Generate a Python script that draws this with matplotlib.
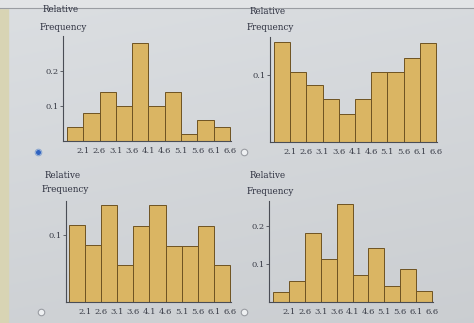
import numpy as np
import matplotlib.pyplot as plt

# bin edges 1.6 .. 6.6 in steps of 0.5, ticks on right edges
edges = np.arange(1.6, 6.61, 0.5)
tick_vals = [2.1, 2.6, 3.1, 3.6, 4.1, 4.6, 5.1, 5.6, 6.1, 6.6]
tick_labels = ["2.1", "2.6", "3.1", "3.6", "4.1", "4.6", "5.1", "5.6", "6.1", "6.6"]

freq_a = [0.04, 0.08, 0.14, 0.10, 0.28, 0.10, 0.14, 0.02, 0.06, 0.04]
freq_b = [0.15, 0.105, 0.085, 0.065, 0.042, 0.065, 0.105, 0.105, 0.125, 0.148]
freq_c = [0.115, 0.085, 0.145, 0.056, 0.114, 0.145, 0.084, 0.084, 0.113, 0.055]
freq_d = [0.027, 0.056, 0.183, 0.114, 0.257, 0.071, 0.142, 0.042, 0.086, 0.029]

yticks_a = [0.1, 0.2]
yticks_b = [0.1]
yticks_c = [0.1]
yticks_d = [0.1, 0.2]

W, H = 474, 323
fig = plt.figure(figsize=(W / 100, H / 100), dpi=100)
fig.patch.set_facecolor("#d3d6d9")

# soft lighting across the screen
bg = fig.add_axes([0, 0, 1, 1], zorder=-5)
yy, xx = np.mgrid[0:1:200j, 0:1:300j]
shade = 0.86 - 0.05 * yy - 0.015 * xx
bg.imshow(np.dstack([shade, shade + 0.012, shade + 0.025]).clip(0, 1),
          aspect="auto", extent=[0, 1, 0, 1])
bg.axvspan(0, 8 / W, color="#d8d4b4")
bg.axhspan(1 - 8 / H, 1, color="#e2e4e6")
bg.axhline(1 - 8 / H, color="#9a9da2", lw=0.8)
bg.set_xlim(0, 1)
bg.set_ylim(0, 1)
bg.axis("off")


def rect(x0, x1, ytop, ybase):
    return [x0 / W, 1 - ybase / H, (x1 - x0) / W, (ybase - ytop) / H]


def hist_panel(r, freqs, ytop, yticks, xlo):
    ax = fig.add_axes(r)
    ax.bar(edges[:-1], freqs, width=0.5, align="edge",
           color="#dab563", edgecolor="#6e5322", linewidth=0.7)
    ax.set_xlim(xlo, 6.63)
    ax.set_ylim(0, ytop)
    ax.patch.set_alpha(0)
    for s in ["top", "right"]:
        ax.spines[s].set_visible(False)
    for s in ["left", "bottom"]:
        ax.spines[s].set_color("#4a4d55")
        ax.spines[s].set_linewidth(0.8)
    ax.set_xticks(tick_vals)
    ax.set_xticklabels(tick_labels, family="DejaVu Serif", fontsize=6, color="#3a3d48")
    ax.set_yticks(yticks)
    ax.set_yticklabels([f"{v:g}" for v in yticks], family="DejaVu Serif",
                       fontsize=6, color="#3a3d48")
    ax.tick_params(axis="x", length=0, pad=4)
    ax.tick_params(axis="y", length=2, width=0.6, pad=1, color="#4a4d55")
    return ax


hist_panel(rect(63, 231, 36, 141), freq_a, 0.30, yticks_a, 1.48)
hist_panel(rect(270, 437, 37, 142), freq_b, 0.157, yticks_b, 1.48)
hist_panel(rect(66, 231, 201, 302), freq_c, 0.151, yticks_c, 1.51)
hist_panel(rect(269, 433, 201, 302), freq_d, 0.266, yticks_d, 1.47)

# axis captions
for x, y1, y2 in [(61, 10, 27), (268, 11, 28), (63, 175, 190), (268, 176, 192)]:
    fig.text(x / W, 1 - y1 / H, "Relative", family="DejaVu Serif", fontsize=6.3,
             color="#2e3140", ha="center", va="center")
    fig.text((x + 2) / W, 1 - y2 / H, "Frequency", family="DejaVu Serif", fontsize=6.3,
             color="#2e3140", ha="center", va="center")

# answer choice radio buttons
radios = [(38, 152, True), (244, 152, False), (41, 312, False), (244, 312, False)]
for x, y, sel in radios:
    fig.text(x / W, 1 - y / H, "", ha="center")
    bg.scatter(x / W, 1 - y / H, s=22, facecolor="#eef0f2",
               edgecolor="#8aa6d0" if sel else "#9a9da3", linewidth=0.8, zorder=3)
    if sel:
        bg.scatter(x / W, 1 - y / H, s=7, color="#2f62c0", zorder=4)

fig.savefig("out.png", dpi=100)
